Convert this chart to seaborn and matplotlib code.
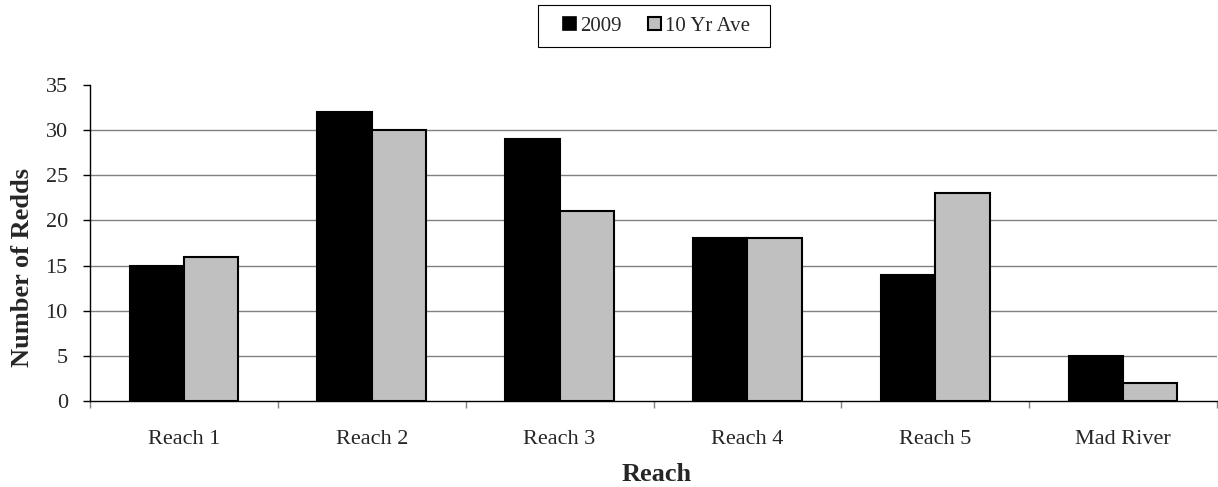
import numpy as np
import pandas as pd
import matplotlib
matplotlib.use("Agg")
import matplotlib.pyplot as plt
import seaborn as sns
from matplotlib.patches import Rectangle
from matplotlib.ticker import FixedLocator

reaches = ["Reach 1", "Reach 2", "Reach 3", "Reach 4", "Reach 5", "Mad River"]
redds_2009 = [15, 32, 29, 18, 14, 5]
redds_10yr = [16, 30, 21, 18, 23, 2]
series = ["2009", "10 Yr Ave"]
y_ticks = [0, 5, 10, 15, 20, 25, 30, 35]

df = pd.DataFrame({
    "Reach": reaches * 2,
    "Redds": redds_2009 + redds_10yr,
    "Series": [series[0]] * len(reaches) + [series[1]] * len(reaches),
})

sns.set_style("white")
plt.rcParams["font.family"] = ["Liberation Serif", "DejaVu Serif"]

fig = plt.figure(figsize=(12.18, 4.87), dpi=100)
ax = fig.add_axes([0.0739, 0.1766, 0.9253, 0.6489])

sns.barplot(data=df, x="Reach", y="Redds", hue="Series", order=reaches,
            hue_order=series, palette=["#000000", "#c0c0c0"],
            width=0.578, gap=0, edgecolor="black", linewidth=1.5,
            saturation=1, ax=ax, legend=False, zorder=3)

ax.set_ylim(0, 35)
ax.set_xlim(-0.5, len(reaches) - 0.5)
ax.set_yticks(y_ticks)
ax.set_yticklabels([str(t) for t in y_ticks], fontsize=16)
for t in y_ticks[1:-1]:
    ax.axhline(t, color="#808080", linewidth=1, zorder=1)

ax.tick_params(axis="x", which="major", length=0, pad=21, labelsize=16)
ax.xaxis.set_minor_locator(FixedLocator(np.arange(-0.5, len(reaches), 1.0)))
ax.tick_params(axis="x", which="minor", length=5, width=1, color="#808080",
               direction="out", bottom=True)
ax.tick_params(axis="y", length=5, width=1, color="black", direction="out",
               left=True, pad=11)

for side in ["top", "right"]:
    ax.spines[side].set_visible(False)
for side in ["left", "bottom"]:
    ax.spines[side].set_color("black")
    ax.spines[side].set_linewidth(1)

ax.set_xlabel("Reach", fontsize=19, fontweight="bold")
ax.set_ylabel("Number of Redds", fontsize=19, fontweight="bold")
ax.xaxis.set_label_coords(0.503, -0.195)
ax.yaxis.set_label_coords(-0.05, 0.424)

# Legend: entries without their own frame, inside a wider rectangular box
handles = [
    Rectangle((0, 0), 1, 1, facecolor="#000000", edgecolor="black", linewidth=1.2),
    Rectangle((0, 0), 1, 1, facecolor="#c0c0c0", edgecolor="black", linewidth=1.5),
]
fig.add_artist(Rectangle((0.4417, 0.9035), 0.1905, 0.0862, transform=fig.transFigure,
                         facecolor="white", edgecolor="black", linewidth=0.8))
fig.legend(handles, series, loc="center", bbox_to_anchor=(0.539, 0.9466),
           ncol=2, fontsize=15, frameon=False, handlelength=0.6,
           handleheight=0.6, handletextpad=0.2, columnspacing=1.3,
           borderpad=0, borderaxespad=0)

fig.savefig("out.png", dpi=100, facecolor="white")
